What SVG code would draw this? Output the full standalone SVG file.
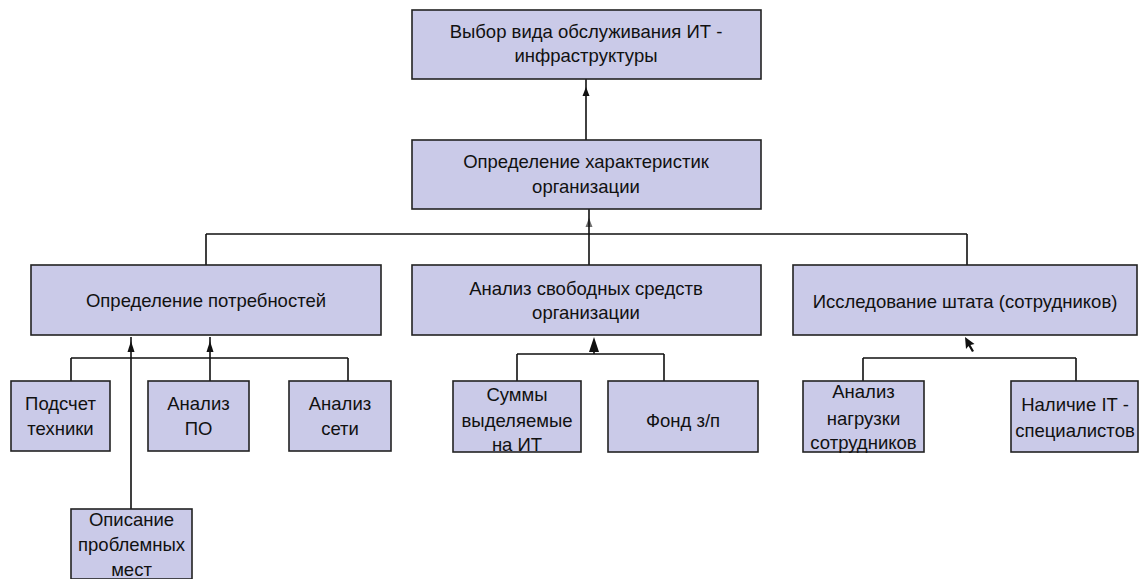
<svg xmlns="http://www.w3.org/2000/svg" width="1139" height="579" viewBox="0 0 1139 579">
<style>
.box{fill:#cacae8;stroke:#222;stroke-width:1.6}
.t{font-family:"Liberation Sans",Arial,sans-serif;font-size:18.5px;fill:#111;text-anchor:middle}
.ln{stroke:#111;stroke-width:1.6;fill:none}
.ah{fill:#111;stroke:none}
</style>
<rect x="0" y="0" width="1139" height="579" fill="#fff"/>
<g id="connectors">
<path class="ln" d="M586 79V140"/>
<path class="ah" d="M586 87 L582.5 96 L589.5 96 Z"/>
<path class="ln" d="M589 209V265M206 234H967M206 234V265M967 234V265"/>
<path class="ah" d="M589 218 L585.5 227 L592.5 227 Z" fill-opacity="0.6"/>
<path class="ln" d="M131 509V337M210 381V337M71 358H348M71 358V381M348 358V381"/>
<path class="ah" d="M131 341 L127.5 352 L134.5 352 Z"/>
<path class="ah" d="M210 341 L206.5 352 L213.5 352 Z"/>
<path class="ln" d="M594 354V345M517 354H664M517 354V381M664 354V381"/>
<path class="ah" d="M594 337 L589 352 L599 352 Z"/>
<path class="ln" d="M863 358H1076M863 358V381M1076 358V381"/>
<path class="ah" d="M965 337 L966 349 L968.5 346 L972 352 L974 351 L970.5 345 L974.5 344 Z"/>
</g>
<g id="n-top"><rect class="box" x="412" y="10" width="349" height="69"/>
<text class="t" x="586" y="38">Выбор вида обслуживания ИТ -</text>
<text class="t" x="586" y="62">инфраструктуры</text></g>
<g id="n-org"><rect class="box" x="412" y="140" width="349" height="69"/>
<text class="t" x="586" y="168">Определение характеристик</text>
<text class="t" x="586" y="193">организации</text></g>
<g id="n-needs"><rect class="box" x="31" y="265" width="350" height="70"/>
<text class="t" x="206" y="307">Определение потребностей</text></g>
<g id="n-funds"><rect class="box" x="412" y="265" width="349" height="70"/>
<text class="t" x="586" y="295">Анализ свободных средств</text>
<text class="t" x="586" y="319">организации</text></g>
<g id="n-staff"><rect class="box" x="793" y="265" width="344" height="70"/>
<text class="t" x="965" y="308">Исследование штата (сотрудников)</text></g>
<g id="n-count"><rect class="box" x="11" y="381" width="99" height="70"/>
<text class="t" x="60.5" y="410">Подсчет</text>
<text class="t" x="60.5" y="435">техники</text></g>
<g id="n-po"><rect class="box" x="148" y="381" width="101" height="70"/>
<text class="t" x="198.5" y="410">Анализ</text>
<text class="t" x="198.5" y="435">ПО</text></g>
<g id="n-net"><rect class="box" x="289" y="381" width="102" height="70"/>
<text class="t" x="340" y="410">Анализ</text>
<text class="t" x="340" y="435">сети</text></g>
<g id="n-problems"><rect class="box" x="71" y="509" width="121" height="70"/>
<text class="t" x="131.5" y="526">Описание</text>
<text class="t" x="131.5" y="551">проблемных</text>
<text class="t" x="131.5" y="576">мест</text></g>
<g id="n-sums"><rect class="box" x="453" y="381" width="128" height="71"/>
<text class="t" x="517" y="401">Суммы</text>
<text class="t" x="517" y="427">выделяемые</text>
<text class="t" x="517" y="451">на ИТ</text></g>
<g id="n-fund"><rect class="box" x="608" y="381" width="150" height="71"/>
<text class="t" x="683" y="427">Фонд з/п</text></g>
<g id="n-load"><rect class="box" x="803" y="381" width="121" height="71"/>
<text class="t" x="863.5" y="398">Анализ</text>
<text class="t" x="863.5" y="425">нагрузки</text>
<text class="t" x="863.5" y="449">сотрудников</text></g>
<g id="n-it"><rect class="box" x="1011" y="381" width="127" height="71"/>
<text class="t" x="1075" y="411">Наличие IT -</text>
<text class="t" x="1075" y="437">специалистов</text></g>
</svg>
